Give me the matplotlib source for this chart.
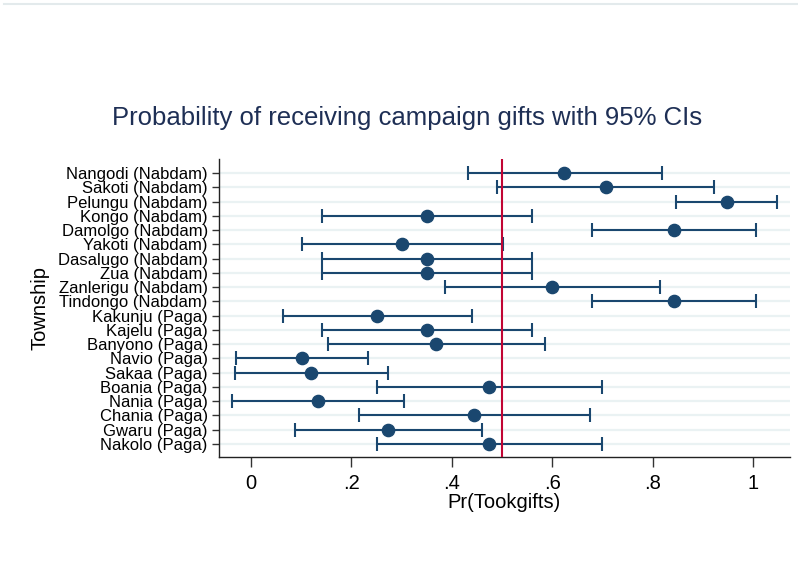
import matplotlib.pyplot as plt

plt.rcParams['font.family'] = ['Liberation Sans', 'DejaVu Sans']

# townships top to bottom, with point estimates and 95% CI bounds
townships = ["Nangodi (Nabdam)", "Sakoti (Nabdam)", "Pelungu (Nabdam)", "Kongo (Nabdam)",
             "Damolgo (Nabdam)", "Yakoti (Nabdam)", "Dasalugo (Nabdam)", "Zua (Nabdam)",
             "Zanlerigu (Nabdam)", "Tindongo (Nabdam)", "Kakunju (Paga)", "Kajelu (Paga)",
             "Banyono (Paga)", "Navio (Paga)", "Sakaa (Paga)", "Boania (Paga)",
             "Nania (Paga)", "Chania (Paga)", "Gwaru (Paga)", "Nakolo (Paga)"]
pr = [0.624, 0.707, 0.948, 0.351, 0.842, 0.300, 0.351, 0.351, 0.600, 0.842,
      0.250, 0.351, 0.369, 0.101, 0.119, 0.474, 0.134, 0.445, 0.272, 0.474]
lo = [0.433, 0.491, 0.847, 0.141, 0.679, 0.101, 0.141, 0.141, 0.386, 0.679,
      0.063, 0.141, 0.154, -0.030, -0.033, 0.250, -0.038, 0.216, 0.088, 0.250]
hi = [0.819, 0.923, 1.048, 0.560, 1.007, 0.503, 0.560, 0.560, 0.815, 1.007,
      0.441, 0.560, 0.586, 0.232, 0.272, 0.699, 0.305, 0.675, 0.461, 0.699]
xticks = [0, 0.2, 0.4, 0.6, 0.8, 1]
xticklabels = ["0", ".2", ".4", ".6", ".8", "1"]

navy = "#1a476f"
ypos = list(range(len(townships)))

fig = plt.figure(figsize=(7.98, 5.82), dpi=100)
ax = fig.add_axes([0.2744, 0.2148, 0.7156, 0.512])

for y in ypos:
    ax.axhline(y, color="#eaf2f3", lw=1.6, zorder=0)

xerr = [[p - l for p, l in zip(pr, lo)], [h - p for p, h in zip(pr, hi)]]
ax.errorbar(pr, ypos, xerr=xerr, fmt="o", color=navy, ms=8.8, lw=1.5,
            capsize=5, capthick=1.5, zorder=3)
ax.axvline(0.5, color="#c10534", lw=1.5, zorder=4)

ax.set_xlim(-0.064, 1.074)
ax.set_ylim(len(townships) - 1 + 0.91, -0.98)
ax.set_yticks(ypos)
ax.set_yticklabels(townships, fontsize=12)
ax.set_xticks(xticks)
ax.set_xticklabels(xticklabels, fontsize=14.5)
ax.tick_params(axis="y", length=5, width=1, color="#333333", pad=3)
ax.tick_params(axis="x", length=7, width=1, color="#333333", pad=5)
for s in ["top", "right"]:
    ax.spines[s].set_visible(False)
for s in ["left", "bottom"]:
    ax.spines[s].set_color("#222222")
    ax.spines[s].set_linewidth(1)

ax.set_xlabel("Pr(Tookgifts)", fontsize=14.5, labelpad=0)
ax.set_ylabel("Township", fontsize=14.5, labelpad=6)

fig.text(0.51, 1 - 118 / 582, "Probability of receiving campaign gifts with 95% CIs",
         ha="center", va="center", fontsize=18.5, color="#1e2f55")

# thin rule along the top edge
fig.add_artist(plt.Line2D([0.005, 1.0], [1 - 3.5 / 582, 1 - 3.5 / 582],
                          color="#e3eaec", lw=1.5))

fig.savefig("out.png", dpi=100)
